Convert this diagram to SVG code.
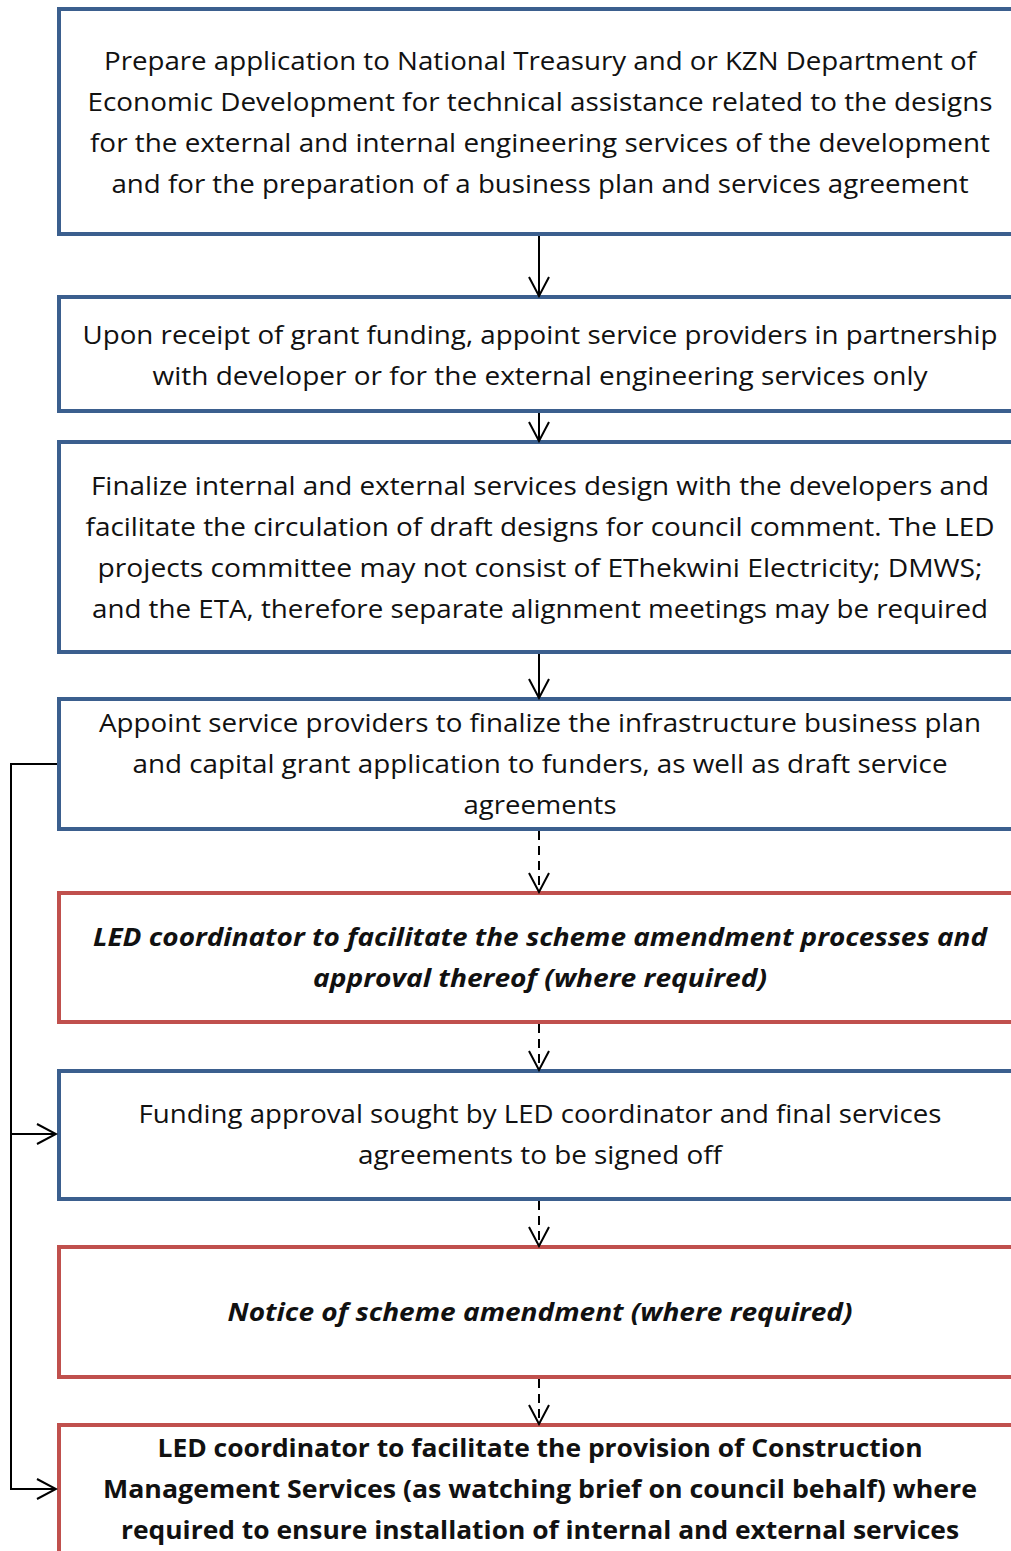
<svg xmlns="http://www.w3.org/2000/svg" width="1011" height="1551" viewBox="0 0 1011 1551">
<defs>
<style>
.b{fill:#fff;stroke:#3B5F8E;stroke-width:4}
.r{fill:#fff;stroke:#C0504D;stroke-width:4}
text{font-family:"Open Sans","Liberation Sans",sans-serif;font-size:25px;fill:#111;text-anchor:middle}
.bi{font-weight:bold;font-style:italic}
.bo{font-weight:bold}
.c{fill:none;stroke:#000;stroke-width:2}
.d{stroke-dasharray:9 6}
</style>
<marker id="ah" markerUnits="userSpaceOnUse" markerWidth="24" markerHeight="24" viewBox="-22 -12 24 24" refX="0" refY="0" orient="auto">
<path d="M-19,-10 L0,0 L-19,10" fill="none" stroke="#000" stroke-width="2"/>
</marker>
</defs>
<rect width="1011" height="1551" fill="#fff"/>
<g id="n1"><rect class="b" x="59" y="9" width="1000" height="225"/>
<text x="540" y="70" textLength="872" lengthAdjust="spacingAndGlyphs">Prepare application to National Treasury and or KZN Department of</text>
<text x="540" y="111" textLength="905" lengthAdjust="spacingAndGlyphs">Economic Development  for technical assistance related to the designs</text>
<text x="540" y="152" textLength="900" lengthAdjust="spacingAndGlyphs">for the external and internal engineering services of the development</text>
<text x="540" y="193" textLength="857" lengthAdjust="spacingAndGlyphs">and for the preparation of a business plan and services agreement</text></g>
<g id="n2"><rect class="b" x="59" y="297" width="1000" height="114"/>
<text x="540" y="344" textLength="915" lengthAdjust="spacingAndGlyphs">Upon receipt of grant funding, appoint service providers in partnership</text>
<text x="540" y="385" textLength="775" lengthAdjust="spacingAndGlyphs">with developer or for the external engineering services only</text></g>
<g id="n3"><rect class="b" x="59" y="442" width="1000" height="210"/>
<text x="540" y="495" textLength="898" lengthAdjust="spacingAndGlyphs">Finalize internal and external services design with the developers and</text>
<text x="540" y="536" textLength="909" lengthAdjust="spacingAndGlyphs">facilitate the circulation of draft designs for council comment. The LED</text>
<text x="540" y="577" textLength="885" lengthAdjust="spacingAndGlyphs">projects committee may not consist of EThekwini Electricity; DMWS;</text>
<text x="540" y="618" textLength="896" lengthAdjust="spacingAndGlyphs">and the ETA, therefore separate alignment meetings may be required</text></g>
<g id="n4"><rect class="b" x="59" y="699" width="1000" height="130"/>
<text x="540" y="732" textLength="882" lengthAdjust="spacingAndGlyphs">Appoint service providers to finalize the infrastructure business plan</text>
<text x="540" y="773" textLength="815" lengthAdjust="spacingAndGlyphs">and capital grant application to funders, as well as draft service</text>
<text x="540" y="814" textLength="153" lengthAdjust="spacingAndGlyphs">agreements</text></g>
<g id="n5"><rect class="r" x="59" y="893" width="1000" height="129"/>
<text class="bi" x="540" y="946" textLength="894" lengthAdjust="spacingAndGlyphs">LED coordinator to facilitate the scheme amendment processes and</text>
<text class="bi" x="540" y="987" textLength="454" lengthAdjust="spacingAndGlyphs">approval thereof (where required)</text></g>
<g id="n6"><rect class="b" x="59" y="1071" width="1000" height="128"/>
<text x="540" y="1123" textLength="803" lengthAdjust="spacingAndGlyphs">Funding approval sought by LED coordinator and final services</text>
<text x="540" y="1164" textLength="364" lengthAdjust="spacingAndGlyphs">agreements to be signed off</text></g>
<g id="n7"><rect class="r" x="59" y="1247" width="1000" height="130"/>
<text class="bi" x="540" y="1321" textLength="625" lengthAdjust="spacingAndGlyphs">Notice of scheme amendment (where required)</text></g>
<g id="n8"><rect class="r" x="59" y="1425" width="1000" height="200"/>
<text class="bo" x="540" y="1457" textLength="765" lengthAdjust="spacingAndGlyphs">LED coordinator to facilitate the provision of Construction</text>
<text class="bo" x="540" y="1498" textLength="874" lengthAdjust="spacingAndGlyphs">Management Services (as watching brief on council behalf) where</text>
<text class="bo" x="540" y="1539" textLength="838" lengthAdjust="spacingAndGlyphs">required to ensure installation of internal and external services</text></g>
<g id="connectors">
<path class="c" d="M539,236 V296" marker-end="url(#ah)"/>
<path class="c" d="M539,413 V441" marker-end="url(#ah)"/>
<path class="c" d="M539,654 V698" marker-end="url(#ah)"/>
<path class="c d" d="M539,831 V892" marker-end="url(#ah)"/>
<path class="c d" d="M539,1024 V1070" marker-end="url(#ah)"/>
<path class="c d" d="M539,1201 V1246" marker-end="url(#ah)"/>
<path class="c d" d="M539,1379 V1424" marker-end="url(#ah)"/>
<path class="c" d="M57,764 H11 V1489 H56" marker-end="url(#ah)"/>
<path class="c" d="M11,1134 H56" marker-end="url(#ah)"/>
</g>
</svg>
